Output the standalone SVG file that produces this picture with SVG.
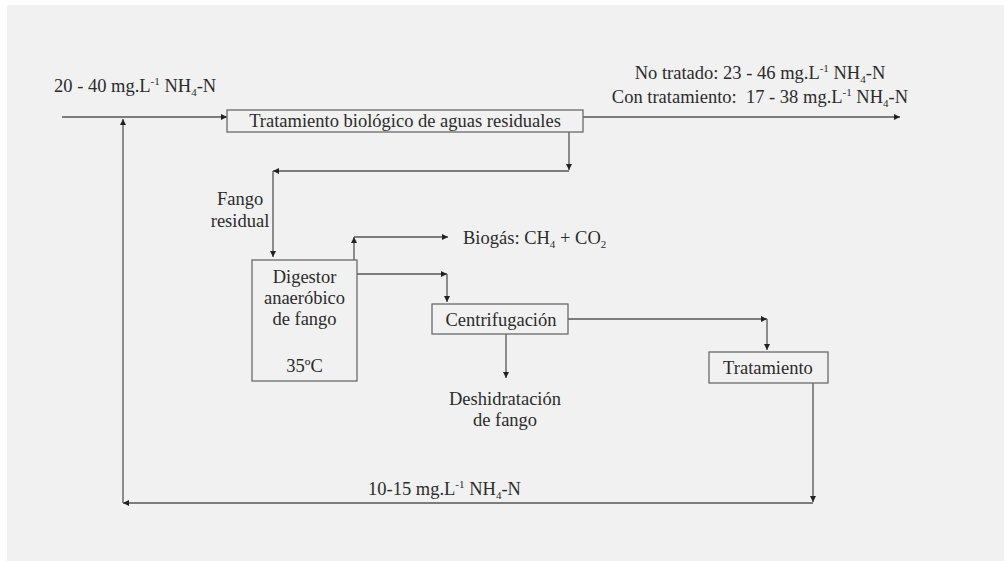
<svg xmlns="http://www.w3.org/2000/svg" width="1004" height="561" viewBox="0 0 1004 561">
<style>
text{font-family:"Liberation Serif","Times New Roman",serif;font-size:18.5px;fill:#2b2b2b}
.box{fill:#f1f1f1;stroke:#6b6b6b;stroke-width:1.3}
.c{text-anchor:middle}
.ln{fill:none;stroke:#555;stroke-width:1.3;marker-end:url(#ah)}
.sm{font-size:11px}
</style>
<defs>
<marker id="ah" viewBox="0 0 10 10" refX="10" refY="5" markerWidth="6" markerHeight="6" markerUnits="userSpaceOnUse" orient="auto">
<path d="M0,0 L10,5 L0,10 z" fill="#222"/>
</marker>
</defs>
<rect x="0" y="0" width="1004" height="561" fill="#ffffff"/>
<rect x="7" y="5" width="997" height="556" fill="#f1f1f1"/>

<g id="connectors">
<path class="ln" d="M62,117 H227"/>
<path class="ln" d="M583,117 H900"/>
<path class="ln" d="M569,132 V170"/>
<path class="ln" d="M569,171 H273"/>
<path class="ln" d="M273,171 V257"/>
<path class="ln" d="M354,260 V237"/>
<path class="ln" d="M354,237 H448"/>
<path class="ln" d="M357,274 H447"/>
<path class="ln" d="M447,274 V302"/>
<path class="ln" d="M568,319 H767"/>
<path class="ln" d="M767,319 V350"/>
<path class="ln" d="M506,334 V378"/>
<path class="ln" d="M813,383 V502"/>
<path class="ln" d="M813,503 H123"/>
<path class="ln" d="M123,503 V119"/>
</g>

<g id="input-label">
<text x="54" y="92">20 - 40 mg.L<tspan class="sm" dy="-7">-1</tspan><tspan dy="7"> NH</tspan><tspan class="sm" dy="4">4</tspan><tspan dy="-4">-N</tspan></text>
</g>

<g id="output-label">
<text class="c" x="760" y="79">No tratado: 23 - 46 mg.L<tspan class="sm" dy="-7">-1</tspan><tspan dy="7"> NH</tspan><tspan class="sm" dy="4">4</tspan><tspan dy="-4">-N</tspan></text>
<text class="c" x="760" y="103" xml:space="preserve">Con tratamiento:  17 - 38 mg.L<tspan class="sm" dy="-7">-1</tspan><tspan dy="7"> NH</tspan><tspan class="sm" dy="4">4</tspan><tspan dy="-4">-N</tspan></text>
</g>

<g id="node-tratamiento-biologico">
<rect class="box" x="227" y="110" width="356" height="22"/>
<text class="c" x="405" y="127">Tratamiento biológico de aguas residuales</text>
</g>

<g id="label-fango-residual">
<text class="c" x="240" y="205">Fango</text>
<text class="c" x="240" y="227">residual</text>
</g>

<g id="node-digestor">
<rect class="box" x="252" y="260" width="105" height="121"/>
<text class="c" x="304.5" y="283">Digestor</text>
<text class="c" x="304.5" y="304">anaeróbico</text>
<text class="c" x="304.5" y="325">de fango</text>
<text class="c" x="304.5" y="372">35ºC</text>
</g>

<g id="label-biogas">
<text x="463" y="244">Biogás: CH<tspan class="sm" dy="4">4</tspan><tspan dy="-4"> + CO</tspan><tspan class="sm" dy="4">2</tspan></text>
</g>

<g id="node-centrifugacion">
<rect class="box" x="432" y="304" width="136" height="30"/>
<text class="c" x="501" y="326">Centrifugación</text>
</g>

<g id="label-deshidratacion">
<text class="c" x="505" y="405">Deshidratación</text>
<text class="c" x="505" y="426">de fango</text>
</g>

<g id="node-tratamiento">
<rect class="box" x="709" y="352" width="119" height="31"/>
<text class="c" x="768" y="374">Tratamiento</text>
</g>

<g id="return-label">
<text x="368" y="495">10-15 mg.L<tspan class="sm" dy="-7">-1</tspan><tspan dy="7"> NH</tspan><tspan class="sm" dy="4">4</tspan><tspan dy="-4">-N</tspan></text>
</g>
</svg>
